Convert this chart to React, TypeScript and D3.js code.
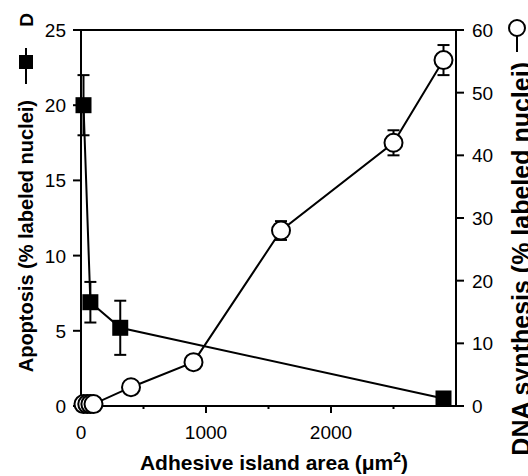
import React from 'react';
import * as d3 from 'd3';

// adhesive island area (um^2) vs apoptosis / DNA synthesis
const apoX = [20, 75, 314, 2900];
const apoY = [20, 6.9, 5.2, 0.5];
const apoErr = [2, 1.35, 1.8, 0];

const dnaX = [20, 50, 75, 100, 400, 900, 1600, 2500, 2900];
const dnaY = [0.3, 0.3, 0.3, 0.3, 3, 7, 28, 42, 55.2];
const dnaErr = [0, 0, 0, 0, 0, 0, 1.5, 2, 2.4];

const xMajor = [0, 1000, 2000];
const xMinor = [500, 1500, 2500];
const yLeftTicks = [0, 5, 10, 15, 20, 25];
const yRightTicks = [0, 10, 20, 30, 40, 50, 60];

const W = 528;
const H = 476;
const font = 'Liberation Sans, Arial, Helvetica, sans-serif';

const App = () => {
    const x = d3.scaleLinear().domain([0, 3000]).range([81, 456]);
    const yL = d3.scaleLinear().domain([0, 25]).range([406, 30]);
    const yR = d3.scaleLinear().domain([0, 60]).range([406, 30]);

    const apo = apoX.map((d, i) => ({ x: d, y: apoY[i], e: apoErr[i] }));
    const dna = dnaX.map((d, i) => ({ x: d, y: dnaY[i], e: dnaErr[i] }));

    const apoLine = d3.line<any>().x(d => x(d.x)).y(d => yL(d.y));
    const dnaLine = d3.line<any>().x(d => x(d.x)).y(d => yR(d.y));

    const [x0, x1] = x.range();
    const [yb, yt] = yL.range();

    return (
        <svg width={W} height={H} style={{ display: 'block', background: '#fff' }} fontFamily={font}>
            <style>{`body{margin:0}`}</style>

            {/* frame */}
            <g stroke="#000" strokeWidth={2} fill="none">
                <line x1={x0} x2={x0} y1={yt} y2={yb} />
                <line x1={x0} x2={x1} y1={yt} y2={yt} />
                <line x1={x1} x2={x1} y1={yt} y2={yb} />
                <line x1={x0 - 1} x2={x1 + 8} y1={yb} y2={yb} />
            </g>

            {/* x ticks */}
            {xMajor.map(t => (
                <g key={'xm' + t}>
                    <line x1={x(t)} x2={x(t)} y1={yb} y2={yb + 7} stroke="#000" strokeWidth={2} />
                    <text x={x(t)} y={439} fontSize={19} textAnchor="middle">{t}</text>
                </g>
            ))}
            {xMinor.map(t => (
                <line key={'xn' + t} x1={x(t)} x2={x(t)} y1={yb} y2={yb + 3} stroke="#000" strokeWidth={2} />
            ))}

            {/* left ticks */}
            {yLeftTicks.map(t => (
                <g key={'yl' + t}>
                    <line x1={x0 - 8} x2={x0} y1={yL(t)} y2={yL(t)} stroke="#000" strokeWidth={2} />
                    <text x={66} y={yL(t) + 7} fontSize={19} textAnchor="end">{t}</text>
                </g>
            ))}

            {/* right ticks */}
            {yRightTicks.map(t => (
                <g key={'yr' + t}>
                    <line x1={x1} x2={x1 + 8} y1={yR(t)} y2={yR(t)} stroke="#000" strokeWidth={2} />
                    <text x={472} y={yR(t) + 7} fontSize={19} textAnchor="start">{t}</text>
                </g>
            ))}

            {/* apoptosis series */}
            <path d={apoLine(apo) || ''} fill="none" stroke="#000" strokeWidth={2} />
            {apo.filter(d => d.e > 0).map((d, i) => (
                <g key={'ae' + i} stroke="#000" strokeWidth={2}>
                    <line x1={x(d.x)} x2={x(d.x)} y1={yL(d.y - d.e)} y2={yL(d.y + d.e)} />
                    <line x1={x(d.x) - 6} x2={x(d.x) + 6} y1={yL(d.y - d.e)} y2={yL(d.y - d.e)} />
                    <line x1={x(d.x) - 6} x2={x(d.x) + 6} y1={yL(d.y + d.e)} y2={yL(d.y + d.e)} />
                </g>
            ))}
            {apo.map((d, i) => (
                <rect key={'a' + i} x={x(d.x) - 8} y={yL(d.y) - 8} width={16} height={16} fill="#000" />
            ))}

            {/* DNA synthesis series */}
            <path d={dnaLine(dna) || ''} fill="none" stroke="#000" strokeWidth={2} />
            {dna.filter(d => d.e > 0).map((d, i) => (
                <g key={'de' + i} stroke="#000" strokeWidth={2}>
                    <line x1={x(d.x)} x2={x(d.x)} y1={yR(d.y - d.e)} y2={yR(d.y + d.e)} />
                    <line x1={x(d.x) - 6} x2={x(d.x) + 6} y1={yR(d.y - d.e)} y2={yR(d.y - d.e)} />
                    <line x1={x(d.x) - 6} x2={x(d.x) + 6} y1={yR(d.y + d.e)} y2={yR(d.y + d.e)} />
                </g>
            ))}
            {dna.map((d, i) => (
                <circle key={'c' + i} cx={x(d.x)} cy={yR(d.y)} r={9} fill="#fff" stroke="#000" strokeWidth={2} />
            ))}

            {/* axis titles */}
            <text x={274} y={470} fontSize={21} fontWeight="bold" textAnchor="middle">
                Adhesive island area (μm<tspan dy={-8} fontSize={14}>2</tspan><tspan dy={8}>)</tspan>
            </text>

            <text transform="translate(33,100) rotate(-90)" fontSize={20} fontWeight="bold" textAnchor="end">
                Apoptosis (% labeled nuclei)
            </text>
            <text transform="translate(33,13) rotate(-90)" fontSize={19} fontWeight="bold" textAnchor="end">D</text>
            <line x1={26} x2={26} y1={48} y2={84} stroke="#000" strokeWidth={2} />
            <rect x={19} y={55} width={14} height={14} fill="#000" />

            <text transform="translate(530,62) rotate(-90)" fontSize={25} fontWeight="bold" textAnchor="end">
                DNA synthesis (% labeled nuclei)
            </text>
            <line x1={517} x2={517} y1={20} y2={52} stroke="#000" strokeWidth={2} />
            <circle cx={517} cy={28} r={8} fill="#fff" stroke="#000" strokeWidth={2} />
        </svg>
    );
};

export default App;
